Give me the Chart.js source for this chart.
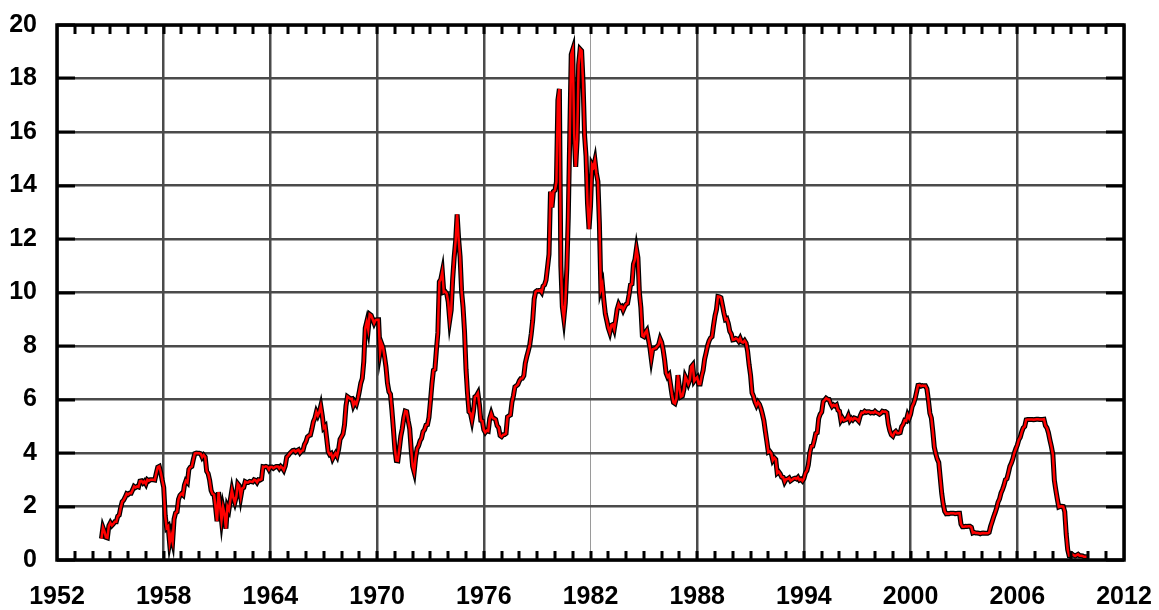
<!DOCTYPE html>
<html>
<head>
<meta charset="utf-8">
<script src="https://cdn.jsdelivr.net/npm/chart.js@4/dist/chart.umd.min.js"></script>
<style>
  html, body { margin: 0; padding: 0; background: #fff; }
  #wrap { width: 1159px; height: 610px; position: relative; }
</style>
</head>
<body>
<div id="wrap"><canvas id="chart"></canvas></div>
<script>
// monthly effective rate, starting July 1954
const startYear = 1954;
const startMonth = 6;
const rates1950s = [
  0.80, 1.22, 1.07, 0.85, 0.83, 1.28,
  1.39, 1.29, 1.35, 1.43, 1.43, 1.64, 1.68, 1.96, 2.18, 2.24, 2.35, 2.48,
  2.45, 2.50, 2.50, 2.62, 2.75, 2.71, 2.75, 2.73, 2.95, 2.96, 2.88, 2.94,
  2.84, 3.00, 2.96, 3.00, 3.00, 3.00, 2.99, 3.24, 3.47, 3.50, 3.28, 2.98,
  2.72, 1.67, 1.20, 1.26, 0.63, 0.93, 0.68, 1.53, 1.76, 1.80, 2.27, 2.42,
  2.48, 2.43, 2.80, 2.96, 2.90, 3.39, 3.47, 3.50, 3.76, 3.98, 4.00, 3.99
];
const rates1960s = [
  3.99, 3.97, 3.84, 3.92, 3.85, 3.32, 3.23, 2.98, 2.60, 2.47, 2.44, 1.98,
  1.45, 2.54, 2.02, 1.49, 1.98, 1.73, 1.17, 2.00, 1.88, 2.26, 2.61, 2.33,
  2.15, 2.37, 2.85, 2.78, 2.36, 2.68, 2.71, 2.93, 2.90, 2.90, 2.94, 2.93,
  2.92, 3.00, 2.98, 2.90, 3.00, 2.99, 3.02, 3.49, 3.48, 3.50, 3.48, 3.38,
  3.48, 3.48, 3.43, 3.47, 3.50, 3.50, 3.42, 3.50, 3.45, 3.36, 3.52, 3.85,
  3.90, 3.98, 4.04, 4.09, 4.10, 4.04, 4.09, 4.12, 4.01, 4.08, 4.10, 4.32,
  4.42, 4.60, 4.65, 4.67, 4.90, 5.17, 5.30, 5.53, 5.40, 5.53, 5.76, 5.40,
  4.94, 5.00, 4.53, 4.05, 3.94, 3.98, 3.79, 3.90, 3.99, 3.88, 4.13, 4.51,
  4.61, 4.71, 5.05, 5.76, 6.11, 6.07, 6.02, 6.03, 5.78, 5.91, 5.82, 6.02,
  6.30, 6.61, 6.79, 7.41, 8.67, 8.90, 8.61, 9.19, 9.15, 9.00, 8.85, 8.97
];
const rates1970s = [
  8.98, 8.98, 7.76, 8.10, 7.95, 7.61, 7.21, 6.61, 6.29, 6.20, 5.60, 4.90,
  4.14, 3.72, 3.71, 4.16, 4.63, 4.91, 5.31, 5.57, 5.55, 5.20, 4.91, 4.14,
  3.50, 3.29, 3.83, 4.17, 4.27, 4.46, 4.55, 4.80, 4.87, 5.04, 5.06, 5.33,
  5.94, 6.58, 7.09, 7.12, 7.84, 8.49, 10.40, 10.50, 10.78, 10.01, 10.03, 9.95,
  9.65, 8.97, 9.35, 10.51, 11.31, 11.93, 12.92, 12.01, 11.34, 10.06, 9.45, 8.53,
  7.13, 6.24, 5.54, 5.49, 5.22, 5.55, 6.10, 6.14, 6.24, 5.82, 5.22, 5.20,
  4.87, 4.77, 4.84, 4.82, 5.29, 5.48, 5.31, 5.29, 5.25, 5.02, 4.95, 4.65,
  4.61, 4.68, 4.69, 4.73, 5.35, 5.39, 5.42, 5.90, 6.14, 6.47, 6.51, 6.56,
  6.70, 6.78, 6.79, 6.89, 7.36, 7.60, 7.81, 8.04, 8.45, 8.96, 9.76, 10.03,
  10.07, 10.06, 10.09, 10.01, 10.24, 10.29, 10.47, 10.94, 11.43, 13.77, 13.18, 13.78
];
const rates1980s = [
  13.82, 14.13, 17.19, 17.61, 10.98, 9.47, 9.03, 9.61, 10.87, 12.81, 15.85, 18.90,
  19.08, 15.93, 14.70, 15.72, 18.52, 19.10, 19.04, 17.82, 15.87, 15.08, 13.31, 12.37,
  13.22, 14.78, 14.68, 14.94, 14.45, 14.15, 12.59, 10.12, 10.31, 9.71, 9.20, 8.95,
  8.68, 8.51, 8.77, 8.80, 8.63, 8.98, 9.37, 9.56, 9.45, 9.48, 9.34, 9.47,
  9.56, 9.59, 9.91, 10.29, 10.32, 11.06, 11.23, 11.64, 11.30, 9.99, 9.43, 8.38,
  8.35, 8.50, 8.58, 8.27, 7.97, 7.53, 7.88, 7.90, 7.92, 7.99, 8.05, 8.27,
  8.14, 7.86, 7.48, 6.99, 6.85, 6.92, 6.56, 6.17, 5.89, 5.85, 6.04, 6.91,
  6.43, 6.10, 6.13, 6.37, 6.85, 6.73, 6.58, 6.73, 7.22, 7.29, 6.69, 6.77,
  6.83, 6.58, 6.58, 6.87, 7.09, 7.51, 7.75, 8.01, 8.19, 8.30, 8.35, 8.76,
  9.12, 9.36, 9.85, 9.84, 9.81, 9.53, 9.24, 8.99, 9.02, 8.84, 8.55, 8.45
];
const rates1990s = [
  8.23, 8.24, 8.28, 8.26, 8.18, 8.29, 8.15, 8.13, 8.20, 8.11, 7.81, 7.31,
  6.91, 6.25, 6.12, 5.91, 5.78, 5.90, 5.82, 5.66, 5.45, 5.21, 4.81, 4.43,
  4.03, 4.06, 3.98, 3.73, 3.82, 3.76, 3.25, 3.30, 3.22, 3.10, 3.09, 2.92,
  3.02, 3.03, 3.07, 2.96, 3.00, 3.04, 3.06, 3.03, 3.09, 2.99, 3.02, 2.96,
  3.05, 3.25, 3.34, 3.56, 4.01, 4.25, 4.26, 4.47, 4.73, 4.76, 5.29, 5.45,
  5.53, 5.92, 5.98, 6.05, 6.01, 6.00, 5.85, 5.74, 5.80, 5.76, 5.80, 5.60,
  5.56, 5.22, 5.31, 5.22, 5.24, 5.27, 5.40, 5.22, 5.30, 5.24, 5.31, 5.29,
  5.25, 5.19, 5.39, 5.51, 5.50, 5.56, 5.52, 5.54, 5.54, 5.50, 5.52, 5.50,
  5.56, 5.51, 5.49, 5.45, 5.49, 5.56, 5.54, 5.55, 5.51, 5.07, 4.83, 4.68,
  4.63, 4.76, 4.81, 4.74, 4.74, 4.76, 4.99, 5.07, 5.22, 5.20, 5.42, 5.30
];
const rates2000s = [
  5.45, 5.73, 5.85, 6.02, 6.27, 6.53, 6.54, 6.50, 6.52, 6.51, 6.51, 6.40,
  5.98, 5.49, 5.31, 4.80, 4.21, 3.97, 3.77, 3.65, 3.07, 2.49, 2.09, 1.82,
  1.73, 1.74, 1.73, 1.75, 1.75, 1.75, 1.73, 1.74, 1.75, 1.75, 1.34, 1.24,
  1.24, 1.26, 1.25, 1.26, 1.26, 1.22, 1.01, 1.03, 1.01, 1.01, 1.00, 0.98,
  1.00, 1.01, 1.00, 1.00, 1.00, 1.03, 1.26, 1.43, 1.61, 1.76, 1.93, 2.16,
  2.28, 2.50, 2.63, 2.79, 3.00, 3.04, 3.26, 3.50, 3.62, 3.78, 4.00, 4.16,
  4.29, 4.49, 4.59, 4.79, 4.94, 4.99, 5.24, 5.25, 5.25, 5.25, 5.25, 5.24,
  5.25, 5.26, 5.26, 5.25, 5.25, 5.25, 5.26, 5.02, 4.94, 4.76, 4.49, 4.24,
  3.94, 2.98, 2.61, 2.28, 1.98, 2.00, 2.01, 2.00, 1.81, 0.97, 0.39, 0.16,
  0.15, 0.22, 0.18, 0.15, 0.18, 0.21, 0.16, 0.16, 0.15, 0.12, 0.12, 0.12
];
const yearTicks = [1952, 1958, 1964, 1970, 1976, 1982, 1988, 1994, 2000, 2006, 2012];
const valueTicks = [0, 2, 4, 6, 8, 10, 12, 14, 16, 18, 20];

const rates = [].concat(rates1950s, rates1960s, rates1970s, rates1980s, rates1990s, rates2000s);
const points = rates.map((v, i) => ({ x: startYear + (startMonth + i) / 12, y: v }));

const labelFont = { family: "'Liberation Sans', Arial, sans-serif", size: 25, weight: 'bold' };

const frameTicksPlugin = {
  id: 'frameTicks',
  afterDraw(chart) {
    const { ctx, chartArea } = chart;
    const xs = chart.scales.x;
    const ys = chart.scales.y;
    ctx.save();
    ctx.strokeStyle = '#000';
    ctx.lineWidth = 3;
    // minor ticks every year, top and bottom, pointing in
    for (let yr = yearTicks[0] + 1; yr < yearTicks[yearTicks.length - 1]; yr++) {
      const px = Math.round(xs.getPixelForValue(yr));
      ctx.beginPath();
      ctx.moveTo(px, chartArea.top);
      ctx.lineTo(px, chartArea.top + 9);
      ctx.moveTo(px, chartArea.bottom);
      ctx.lineTo(px, chartArea.bottom - 9);
      ctx.stroke();
    }
    valueTicks.forEach((v) => {
      const py = Math.round(ys.getPixelForValue(v));
      ctx.beginPath();
      ctx.moveTo(chartArea.left, py);
      ctx.lineTo(chartArea.left + 18, py);
      ctx.moveTo(chartArea.right, py);
      ctx.lineTo(chartArea.right - 18, py);
      ctx.stroke();
    });
    ctx.lineWidth = 3.5;
    ctx.strokeRect(chartArea.left, chartArea.top, chartArea.right - chartArea.left, chartArea.bottom - chartArea.top);
    ctx.restore();
  },
};

new Chart(document.getElementById('chart'), {
  type: 'line',
  data: {
    datasets: [
      {
        data: points,
        borderColor: '#ff0000',
        borderWidth: 2.5,
        pointRadius: 0,
        tension: 0,
        order: 0,
      },
      {
        data: points,
        borderColor: '#000000',
        borderWidth: 5,
        pointRadius: 0,
        tension: 0,
        order: 1,
      },
    ],
  },
  options: {
    responsive: true,
    maintainAspectRatio: false,
    animation: false,
    events: [],
    layout: { padding: { top: 25, right: 35, left: 0, bottom: 0 } },
    scales: {
      x: {
        type: 'linear',
        min: 1952,
        max: 2012,
        afterFit: (s) => { s.height = 50; s.paddingLeft = 0; s.paddingRight = 0; },
        afterBuildTicks: (s) => { s.ticks = yearTicks.map((v) => ({ value: v })); },
        ticks: { color: '#000', font: labelFont, padding: 22, maxRotation: 0, autoSkip: false, callback: (v) => String(v) },
        grid: {
          drawTicks: false,
          color: (c) => (c.tick && c.tick.value === 1982 ? '#9a9a9a' : '#4a4a4a'),
          lineWidth: (c) => (c.tick && c.tick.value === 1982 ? 1 : 2.5),
        },
        border: { display: false },
      },
      y: {
        min: 0,
        max: 20,
        afterFit: (s) => { s.width = 57; s.paddingTop = 0; s.paddingBottom = 0; },
        afterBuildTicks: (s) => { s.ticks = valueTicks.map((v) => ({ value: v })); },
        ticks: { color: '#000', font: labelFont, padding: 20 },
        grid: { drawTicks: false, color: '#4a4a4a', lineWidth: 2.5 },
        border: { display: false },
      },
    },
    plugins: {
      legend: { display: false },
      tooltip: { enabled: false },
    },
  },
  plugins: [frameTicksPlugin],
});
</script>
</body>
</html>
